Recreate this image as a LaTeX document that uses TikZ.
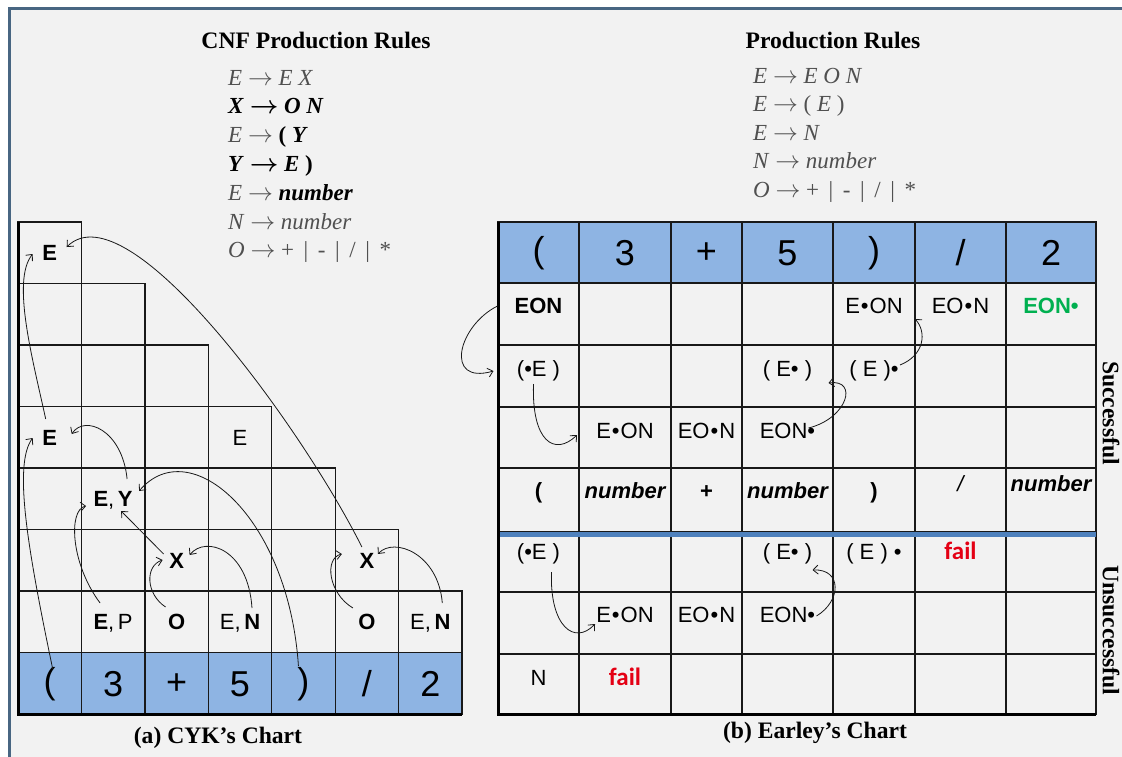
\documentclass[tikz,border=0pt]{standalone}
\usepackage{fontspec}
\setmainfont{Liberation Serif}
\setsansfont{Liberation Sans}
\newfontfamily\calibrifont{Carlito}
\usetikzlibrary{arrows.meta,calc,bending}

\definecolor{tokblue}{RGB}{142,180,227}
\definecolor{sepblue}{RGB}{79,129,189}
\definecolor{frameblue}{RGB}{72,102,130}
\definecolor{bggray}{RGB}{242,242,242}
\definecolor{eongreen}{RGB}{0,176,80}
\definecolor{failred}{RGB}{228,0,20}
\definecolor{rulegray}{RGB}{80,80,80}

\newcommand\cellsf{\sffamily\fontsize{22}{26}\selectfont}
\newcommand\toksf{\sffamily\fontsize{36}{40}\selectfont}
\newcommand\titlerm{\rmfamily\bfseries\fontsize{23.6}{28}\selectfont}
\newcommand\rulerm{\rmfamily\fontsize{23}{28}\selectfont}
\newcommand\failsf{\calibrifont\bfseries\fontsize{25}{28}\selectfont}
\newcommand\dt{\hspace{1pt}•\hspace{1pt}}

\begin{document}
\begin{tikzpicture}[x=1pt,y=-1pt, >={Straight Barb[length=5pt,width=9pt]},
  gridline/.style={draw=black!90,line width=1.3pt},
  tok/.style={font=\toksf,inner sep=0pt},
  cell/.style={font=\cellsf,inner sep=2pt,text height=16pt,text depth=4pt},
  bcell/.style={cell,font=\cellsf\bfseries},
  fail/.style={cell,font=\failsf,text=failred},
  arr/.style={->,line width=0.8pt,draw=black!90},
  ruletext/.style={font=\rulerm,anchor=base west,inner sep=0pt,text=rulegray},
  ttl/.style={font=\titlerm}]
  \useasboundingbox (0,0) rectangle (1122,756);
  \fill[white] (0,0) rectangle (1122,756);
  \draw[fill=bggray,draw=frameblue,line width=3pt] (9,8) rectangle (1140,780);

  % titles and rules
  \node[ttl] (cnft) at (316,40) {CNF Production Rules};
  \node[ttl] (prt) at (833,40) {Production Rules};
  \foreach \r [count=\k] in {
      {\textit{E} $\rightarrow$ \textit{E X}},
      {{\color{black}\bfseries\boldmath\textit{X} $\rightarrow$ \textit{O N}}},
      {\textit{E} $\rightarrow$ {\color{black}\bfseries ( \textit{Y}}},
      {{\color{black}\bfseries\boldmath\textit{Y} $\rightarrow$ \textit{E} )}},
      {\textit{E} $\rightarrow$ {\color{black}\bfseries\itshape number}},
      {\textit{N} $\rightarrow$ \textit{number}},
      {\textit{O} $\rightarrow$ + \,|\, - \,|\, / \,|\, *}}
    \node[ruletext] (cnf\k) at (228,{85+28.8*(\k-1)}) {\r};
  \foreach \r [count=\k] in {
      {\textit{E} $\rightarrow$ \textit{E O N}},
      {\textit{E} $\rightarrow$ ( \textit{E} )},
      {\textit{E} $\rightarrow$ \textit{N}},
      {\textit{N} $\rightarrow$ \textit{number}},
      {\textit{O} $\rightarrow$ + \,|\, - \,|\, / \,|\, *}}
    \node[ruletext] (pr\k) at (753,{83+28.5*(\k-1)}) {\r};

  % CYK chart
  \foreach \j in {0,...,6}
    \foreach \i in {0,...,\j}
      \draw[gridline] ({18+63.43*\i},{222+61.5*\j}) rectangle ++(63.43,61.5);
  \foreach \i in {0,...,6}
    \draw[gridline,fill=tokblue] ({18+63.43*\i},652.5) rectangle ++(63.43,61.5);
  \draw[line width=3pt] (18,222) -- (18,714) -- (462,714);
  \foreach \t [count=\i] in {{(},3,+,5,{)},/,2}
    \node[tok] (ct\i) at ({18+63.43*(\i-0.5)},684) {\t};

  \node[bcell] (s7) at (49.7,254) {E};
  \node[bcell] (s4) at (49.7,439) {E};
  \node[cell] (s4b) at (240,439) {E};
  \node[cell] (ey) at (113.1,500) {\textbf{E},\,\textbf{Y}};
  \node[bcell] (x1) at (176.6,562) {X};
  \node[bcell] (x2) at (366.9,562) {X};
  \node[cell] (ep) at (113.1,623) {\textbf{E},\,P};
  \node[bcell] (o1) at (176.6,623) {O};
  \node[cell] (en1) at (240,623) {E,\,\textbf{N}};
  \node[bcell] (o2) at (366.9,623) {O};
  \node[cell] (en2) at (430.3,623) {E,\,\textbf{N}};

  \draw[arr] ($(ct1)+(3,-15)$) .. controls +(-25,-120) and +(-20,25) .. ($(s4)+(-17,-1)$);
  \draw[arr] ($(s4)+(-4,-20)$) .. controls +(-13,-60) and +(-22,25) .. ($(s7)+(-17,0)$);
  \draw[arr] ($(ey)+(14,-21)$) .. controls +(-5,-50) and +(12,-20) .. ($(s4)+(22,-5)$);
  \draw[arr] ($(ct5)+(-5,-18)$) .. controls +(-10,-150) and +(50,-60) .. ($(ey)+(26,-9)$);
  \draw[arr] ($(ep)+(-13,-20)$) .. controls +(-30,-40) and +(-18,2) .. ($(ey)+(-27,6)$);
  \draw[arr] ($(x1)+(-13,-8)$) -- ($(ey)+(8,11)$);
  \draw[arr] ($(o1)+(-11,-16)$) .. controls +(-20,-13) and +(-18,5) .. ($(x1)+(-14,-2)$);
  \draw[arr] ($(en1)+(12,-15)$) .. controls +(-4,-60) and +(15,-20) .. ($(x1)+(13,-7)$);
  \draw[arr] ($(x2)+(-5,-15)$) .. controls +(-60,-120) and +(60,-62) .. ($(s7)+(17,-7)$);
  \draw[arr] ($(o2)+(-14,-15)$) .. controls +(-25,-15) and +(-18,3) .. ($(x2)+(-25,-8)$);
  \draw[arr] ($(en2)+(12,-20)$) .. controls +(-4,-50) and +(15,-18) .. ($(x2)+(11,-8)$);

  \node[ttl] (capa) at (218,738) {(a) CYK’s Chart};

  % Earley chart
  \foreach \xa/\xb in {498/579,579/671,671/742,742/833,833/915,915/1006,1006/1096} {
    \draw[gridline,fill=tokblue] (\xa,222) rectangle (\xb,283);
    \foreach \ya/\yb in {283/345,345/407,407/468,468/532,532/592,592/654,654/714}
      \draw[gridline] (\xa,\ya) rectangle (\xb,\yb);
  }
  \draw[sepblue,line width=5pt] (498,534) -- (1096,534);
  \draw[line width=3pt] (498,222) -- (498,714) -- (1096,714);

  \node[tok] (et1) at (538.5,253) {(};
  \node[tok] (et2) at (625,253) {3};
  \node[tok] (et3) at (706.5,253) {+};
  \node[tok] (et4) at (787.5,253) {5};
  \node[tok] (et5) at (874,253) {)};
  \node[tok] (et6) at (960.5,253) {/};
  \node[tok] (et7) at (1051,253) {2};

  \node[bcell] (eon) at (538.5,307) {EON};
  \node[cell] (eo4) at (874,307) {E\dt ON};
  \node[cell] (eo5) at (960.5,307) {EO\dt N};
  \node[bcell,text=eongreen] (eonf) at (1051,307) {EON•};

  \node[cell] (pe1) at (538.5,370) {(•E )};
  \node[cell] (pe3) at (787.5,370) {( E• )};
  \node[cell] (pe4) at (874,370) {( E )•};

  \node[cell] (eo1) at (625,432) {E\dt ON};
  \node[cell] (eo2) at (706.5,432) {EO\dt N};
  \node[cell] (eon3) at (787.5,432) {EON•};

  \node[bcell] (w1) at (538.5,492) {(};
  \node[bcell] (w2) at (625,492) {\itshape number};
  \node[bcell] (w3) at (706.5,492) {+};
  \node[bcell] (w4) at (787.5,492) {\itshape number};
  \node[bcell] (w5) at (874,492) {)};
  \node[cell] (w6) at (960.5,485) {\itshape /};
  \node[bcell] (w7) at (1051,485) {\itshape number};

  \node[cell] (upe1) at (538.5,553) {(•E )};
  \node[cell] (upe3) at (787.5,553) {( E• )};
  \node[cell] (upe4) at (874,553) {( E ) •};
  \node[fail] (ufail) at (960.5,553) {fail};

  \node[cell] (ueo1) at (625,616) {E\dt ON};
  \node[cell] (ueo2) at (706.5,616) {EO\dt N};
  \node[cell] (ueon3) at (787.5,616) {EON•};

  \node[cell] (un) at (538.5,679) {N};
  \node[fail] (nfail) at (625,679) {fail};

  \draw[arr] ($(eon)+(-41,-1)$) .. controls +(-40,20) and +(-50,15) .. ($(pe1)+(-45,1)$);
  \draw[arr] ($(pe1)+(-5,14)$) .. controls +(-2,58) and +(-22,22) .. ($(eo1)+(-48,3)$);
  \draw[arr] ($(eon3)+(21,-4)$) .. controls +(40,-10) and +(30,-5) .. ($(pe3)+(41,13)$);
  \draw[arr] ($(pe4)+(26,-5)$) .. controls +(25,-10) and +(12,12) .. ($(eo4)+(41,12)$);
  \draw[arr] ($(upe1)+(13,19)$) .. controls +(-2,55) and +(-20,22) .. ($(ueo1)+(-30,8)$);
  \draw[arr] ($(ueon3)+(29,0)$) .. controls +(25,-15) and +(30,-2) .. ($(upe3)+(25,17)$);

  \node[ttl,rotate=-90] (succ) at (1111,413) {Successful};
  \node[ttl,rotate=-90] (unsucc) at (1111,630) {Unsuccessful};
  \node[ttl] (capb) at (815,733) {(b) Earley’s Chart};
\end{tikzpicture}
\end{document}
